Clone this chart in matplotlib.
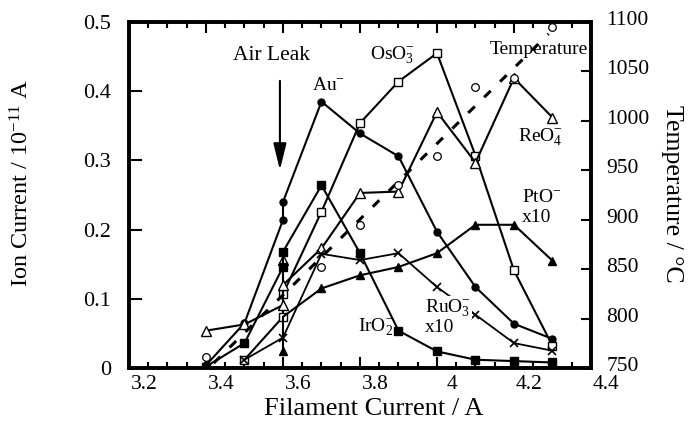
import matplotlib
matplotlib.use('Agg')
import matplotlib.pyplot as plt
import matplotlib.transforms as mtransforms
from matplotlib.ticker import MultipleLocator, FixedLocator

plt.rcParams['font.family'] = ['Liberation Serif', 'DejaVu Serif']
plt.rcParams['mathtext.fontset'] = 'custom'
plt.rcParams['mathtext.rm'] = 'Liberation Serif'
plt.rcParams['mathtext.it'] = 'Liberation Serif:italic'

# Data __________________________________________________________________
# ion currents (10^-11 A); 3.6 A was measured twice (air leak)
au_x = [3.4, 3.5, 3.6, 3.6, 3.7, 3.8, 3.9, 4.0, 4.1, 4.2, 4.3]
au_y = [0.004, 0.065, 0.214, 0.240, 0.385, 0.339, 0.306, 0.197, 0.117, 0.064, 0.042]

oso3_x = [3.5, 3.6, 3.6, 3.7, 3.8, 3.9, 4.0, 4.1, 4.2, 4.3]
oso3_y = [0.012, 0.074, 0.107, 0.226, 0.354, 0.414, 0.455, 0.307, 0.141, 0.032]

reo4_x = [3.4, 3.5, 3.6, 3.6, 3.6, 3.7, 3.8, 3.9, 4.0, 4.1, 4.2, 4.3]
reo4_y = [0.054, 0.063, 0.091, 0.156, 0.120, 0.173, 0.253, 0.255, 0.370, 0.297, 0.419, 0.362]

pto_x = [3.6, 3.6, 3.7, 3.8, 3.9, 4.0, 4.1, 4.2, 4.3]
pto_y = [0.024, 0.074, 0.115, 0.134, 0.146, 0.166, 0.207, 0.207, 0.155]
pto_marks = [0, 2, 3, 4, 5, 6, 7, 8]

ruo3_x = [3.5, 3.6, 3.7, 3.8, 3.9, 4.0, 4.1, 4.2, 4.3]
ruo3_y = [0.012, 0.044, 0.165, 0.156, 0.166, 0.117, 0.077, 0.036, 0.025]

iro2_x = [3.4, 3.5, 3.6, 3.6, 3.7, 3.8, 3.9, 4.0, 4.1, 4.2, 4.3]
iro2_y = [0.002, 0.036, 0.146, 0.168, 0.264, 0.166, 0.054, 0.024, 0.012, 0.010, 0.008]

# temperature (deg C) and its straight fit
temp_x = [3.4, 3.7, 3.8, 3.9, 4.0, 4.1, 4.2, 4.3]
temp_y = [761, 852, 895, 935, 964, 1034, 1043, 1095]
temp_fit_x = [3.42, 4.29]
temp_fit_y = [755, 1088]

x_ticks = [3.2, 3.4, 3.6, 3.8, 4.0, 4.2, 4.4]
x_tick_labels = ['3.2', '3.4', '3.6', '3.8', '4', '4.2', '4.4']
y_ticks = [0, 0.1, 0.2, 0.3, 0.4, 0.5]
y_tick_labels = ['0', '0.1', '0.2', '0.3', '0.4', '0.5']
t_ticks = [750, 800, 850, 900, 950, 1000, 1050, 1100]
t_tick_labels = ['750', '800', '850', '900', '950', '1000', '1050', '1100']

# Plot __________________________________________________________________
fig = plt.figure(figsize=(6.88, 4.32), dpi=100)
ax = fig.add_axes([0.1875, 0.1481, 0.6715, 0.8009])
ax2 = ax.twinx()

lw = 1.5
ax.plot(au_x, au_y, color='black', lw=lw, marker='o', ms=5, mfc='black')
ax.plot(oso3_x, oso3_y, color='black', lw=lw, marker='s', ms=5.5, mfc='white', mew=1)
ax.plot(reo4_x, reo4_y, color='black', lw=lw, marker='^', ms=6.5, mfc='white', mew=1)
ax.plot(pto_x, pto_y, color='black', lw=lw, marker='^', ms=6, mfc='black',
        markevery=pto_marks)
ax.plot(ruo3_x, ruo3_y, color='black', lw=1.3, marker='x', ms=6, mew=1.2)
ax.plot(iro2_x, iro2_y, color='black', lw=lw, marker='s', ms=5.5, mfc='black')

ax2.plot(temp_fit_x, temp_fit_y, color='black', lw=2.2, ls=(0, (3, 4.3)))
ax2.plot(temp_x, temp_y, ls='none', marker='o', ms=5.5, mfc='white', mec='black', mew=0.9)

ax.set_xlim(3.2, 4.4)
ax.set_ylim(0, 0.5)
ax2.set_ylim(750, 1100)

ax.xaxis.set_major_locator(FixedLocator(x_ticks))
ax.set_xticklabels(x_tick_labels)
ax.xaxis.set_minor_locator(MultipleLocator(0.05))
ax.yaxis.set_major_locator(FixedLocator(y_ticks))
ax.set_yticklabels(y_tick_labels)
ax2.yaxis.set_major_locator(FixedLocator(t_ticks))
ax2.set_yticklabels(t_tick_labels)

ax.tick_params(axis='x', which='both', direction='in', top=True, bottom=True, width=1.5)
ax.tick_params(axis='x', which='major', length=8, pad=5, labelsize=15.5)
ax.tick_params(axis='x', which='minor', length=4)
ax.tick_params(axis='y', direction='in', length=9, width=1.5, pad=13, labelsize=16)
ax2.tick_params(axis='y', direction='in', length=7, width=1.5, pad=11, labelsize=15.5)

for a in (ax, ax2):
    for spine in a.spines.values():
        spine.set_linewidth(2.6)

# the scanned tick labels sit a bit off their ticks
shift_x = mtransforms.ScaledTranslation(0.15, 0, fig.dpi_scale_trans)
for lab in ax.get_xticklabels():
    lab.set_transform(lab.get_transform() + shift_x)
shift_t = mtransforms.ScaledTranslation(0, 0.04, fig.dpi_scale_trans)
for lab in ax2.get_yticklabels():
    lab.set_transform(lab.get_transform() + shift_t)

ax.set_xlabel('Filament Current / A', fontsize=19, va='center')
ax.xaxis.set_label_coords(0.530, -0.118)
ax.set_ylabel('Ion Current / 10$^{-11}$ A', fontsize=17.5, va='center')
ax.yaxis.set_label_coords(-0.232, 0.536)
ax2.set_ylabel('Temperature / °C', fontsize=18.5, rotation=-90, va='center')
ax2.yaxis.set_label_coords(1.176, 0.503)

# annotations
fs = 14
ax.text(3.571, 0.451, 'Air Leak', fontsize=15.5, ha='center', va='center')
ax.annotate('', xy=(3.592, 0.282), xytext=(3.592, 0.419),
            arrowprops=dict(arrowstyle='-|>,head_length=0.9,head_width=0.22',
                            lw=1.5, color='black', mutation_scale=18))
ax.text(3.675, 0.409, 'Au$^{-}$', fontsize=fs, ha='left', va='center')
ax.text(3.826, 0.452, 'OsO$_3^{-}$', fontsize=fs, ha='left', va='center')
ax.text(4.138, 0.461, 'Temperature', fontsize=fs, ha='left', va='center', zorder=5,
        bbox=dict(facecolor='white', edgecolor='none', pad=0.5))
ax.text(4.210, 0.334, 'ReO$_4^{-}$', fontsize=fs, ha='left', va='center')
ax.text(4.221, 0.247, 'PtO$^{-}$', fontsize=fs, ha='left', va='center')
ax.text(4.221, 0.218, 'x10', fontsize=fs, ha='left', va='center')
ax.text(3.969, 0.087, 'RuO$_3^{-}$', fontsize=fs, ha='left', va='center', zorder=5,
        bbox=dict(facecolor='white', edgecolor='none', pad=0.5))
ax.text(3.969, 0.059, 'x10', fontsize=fs, ha='left', va='center', zorder=5,
        bbox=dict(facecolor='white', edgecolor='none', pad=0.5))
ax.text(3.795, 0.059, 'IrO$_2^{-}$', fontsize=fs, ha='left', va='center')

plt.savefig('out.png', dpi=100)
